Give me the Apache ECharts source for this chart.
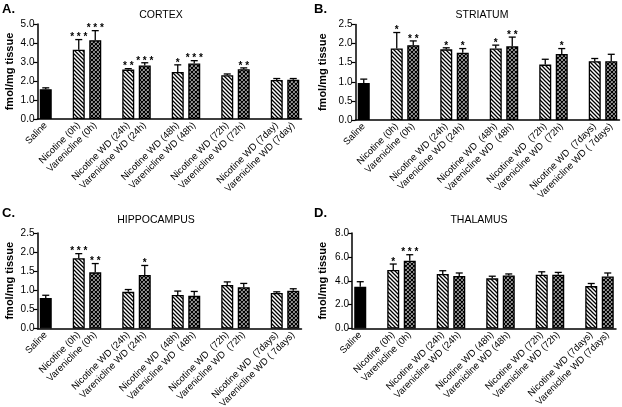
<!DOCTYPE html>
<html><head><meta charset="utf-8">
<script src="https://cdn.jsdelivr.net/npm/echarts@6/dist/echarts.min.js"></script>
<style>html,body{margin:0;padding:0;background:#fff}#c{width:622px;height:407px}</style>
</head><body><div id="c"></div>
<script>
// ---------- data ----------
const labelsCortex = ['Saline','Nicotine (0h)','Varenicline (0h)','Nicotine WD (24h)','Varenicline WD (24h)','Nicotine WD (48h)','Varenicline WD (48h)','Nicotine WD (72h)','Varenicline WD (72h)','Nicotine WD (7day)','Varenicline WD (7day)'];
const labelsStriatum = ['Saline','Nicotine (0h)','Varenicline (0h)','Nicotine WD (24h)','Varenicline WD (24h)','Nicotine WD  (48h)','Varenicline WD  (48h)','Nicotine WD  (72h)','Varenicline WD  (72h)','Nicotine WD  (7days)','Varenicline WD ( 7days)'];
const labelsHippocampus = ['Saline','Nicotine (0h)','Varenicline (0h)','Nicotine WD (24h)','Varenicline WD (24h)','Nicotine WD  (48h)','Varenicline WD  (48h)','Nicotine WD  (72h)','Varenicline WD  (72h)','Nicotine WD  (7days)','Varenicline WD ( 7days)'];
const labelsThalamus = ['Saline','Nicotine (0h)','Varenicline (0h)','Nicotine WD (24h)','Varenicline WD (24h)','Nicotine WD (48h)','Varenicline WD (48h)','Nicotine WD (72h)','Varenicline WD (72h)','Nicotine WD (7days)','Varenicline WD (7days)'];

const cortexMean  = [1.57, 3.65, 4.15, 2.60, 2.82, 2.48, 2.92, 2.30, 2.62, 2.05, 2.07];
const cortexErr   = [0.07, 0.53, 0.50, 0.05, 0.14, 0.37, 0.15, 0.07, 0.07, 0.08, 0.06];
const cortexStars = ['', '***', '***', '**', '***', '*', '***', '', '**', '', ''];

const striatumMean  = [0.97, 1.87, 1.96, 1.85, 1.76, 1.87, 1.93, 1.45, 1.73, 1.54, 1.54];
const striatumErr   = [0.10, 0.42, 0.11, 0.04, 0.11, 0.09, 0.24, 0.14, 0.14, 0.07, 0.18];
const striatumStars = ['', '*', '**', '*', '*', '*', '**', '', '*', '', ''];

const hippocampusMean  = [0.80, 1.84, 1.47, 0.96, 1.40, 0.88, 0.86, 1.14, 1.08, 0.93, 0.99];
const hippocampusErr   = [0.07, 0.12, 0.23, 0.06, 0.25, 0.10, 0.11, 0.08, 0.10, 0.03, 0.05];
const hippocampusStars = ['', '***', '**', '', '*', '', '', '', '', '', ''];

const thalamusMean  = [3.50, 4.90, 5.68, 4.56, 4.40, 4.20, 4.45, 4.50, 4.50, 3.55, 4.35];
const thalamusErr   = [0.42, 0.50, 0.50, 0.28, 0.25, 0.18, 0.12, 0.25, 0.20, 0.22, 0.30];
const thalamusStars = ['', '*', '***', '', '', '', '', '', '', '', ''];

const yTicksCortex = {min: 0, max: 5, step: 1};
const yTicksStriatum = {min: 0, max: 2.5, step: 0.5};
const yTicksHippocampus = {min: 0, max: 2.5, step: 0.5};
const yTicksThalamus = {min: 0, max: 8, step: 2};

// ---------- patterns ----------
function hatchCanvas() {
  const c = document.createElement('canvas'); c.width = 4; c.height = 4;
  const g = c.getContext('2d');
  g.fillStyle = '#fff'; g.fillRect(0, 0, 4, 4);
  g.strokeStyle = '#000'; g.lineWidth = 1.3;
  g.beginPath();
  g.moveTo(-1, -1); g.lineTo(5, 5);
  g.moveTo(3, -1); g.lineTo(5, 1);
  g.moveTo(-1, 3); g.lineTo(1, 5);
  g.stroke();
  return c;
}
function crossCanvas() {
  const c = document.createElement('canvas'); c.width = 4; c.height = 4;
  const g = c.getContext('2d');
  g.fillStyle = '#fff'; g.fillRect(0, 0, 4, 4);
  g.strokeStyle = '#000'; g.lineWidth = 1.4;
  g.beginPath();
  g.moveTo(-1, -1); g.lineTo(5, 5);
  g.moveTo(3, -1); g.lineTo(5, 1);
  g.moveTo(-1, 3); g.lineTo(1, 5);
  g.moveTo(5, -1); g.lineTo(-1, 5);
  g.moveTo(1, -1); g.lineTo(-1, 1);
  g.moveTo(5, 3); g.lineTo(3, 5);
  g.stroke();
  return c;
}
const fillSaline = '#000';
const fillNicotine = {image: hatchCanvas(), repeat: 'repeat'};
const fillVarenicline = {image: crossCanvas(), repeat: 'repeat'};

// ---------- layout ----------
const FONT = 'Liberation Sans, Arial, sans-serif';
const panels = [
  {letter: 'A.', title: 'CORTEX', labels: labelsCortex, mean: cortexMean, err: cortexErr, stars: cortexStars, ticks: yTicksCortex,
   grid: {left: 37.5, top: 24, width: 264, height: 95}, titleX: 161, titleY: 15.5, letterX: 2, letterY: 3, nameGap: 22},
  {letter: 'B.', title: 'STRIATUM', labels: labelsStriatum, mean: striatumMean, err: striatumErr, stars: striatumStars, ticks: yTicksStriatum,
   grid: {left: 355.5, top: 24.5, width: 264, height: 95.5}, titleX: 482, titleY: 15.5, letterX: 314, letterY: 3, nameGap: 27},
  {letter: 'C.', title: 'HIPPOCAMPUS', labels: labelsHippocampus, mean: hippocampusMean, err: hippocampusErr, stars: hippocampusStars, ticks: yTicksHippocampus,
   grid: {left: 37.5, top: 233, width: 264, height: 95.5}, titleX: 156, titleY: 220, letterX: 2, letterY: 207, nameGap: 22},
  {letter: 'D.', title: 'THALAMUS', labels: labelsThalamus, mean: thalamusMean, err: thalamusErr, stars: thalamusStars, ticks: yTicksThalamus,
   grid: {left: 352, top: 233, width: 264, height: 95.5}, titleX: 479, titleY: 220, letterX: 314, letterY: 207, nameGap: 24}
];

// group index -> category slot (Saline, blank, pair, blank, pair, ...)
function slotOf(g) { return g === 0 ? 0 : 2 + 3 * Math.floor((g - 1) / 2) + ((g - 1) % 2); }
const NSLOTS = 16;
function categories(labels) {
  const cats = new Array(NSLOTS).fill('');
  labels.forEach((l, g) => { cats[slotOf(g)] = l; });
  return cats;
}
function fillOf(g) { return g === 0 ? fillSaline : ((g - 1) % 2 === 0 ? fillNicotine : fillVarenicline); }

const grids = [], xAxes = [], yAxes = [], series = [], graphics = [];
panels.forEach((p, i) => {
  grids.push(Object.assign({outerBoundsMode: 'none', containLabel: false}, p.grid));
  xAxes.push({
    type: 'category', gridIndex: i, data: categories(p.labels), boundaryGap: true,
    axisLine: {show: true, lineStyle: {color: '#000', width: 1.5}},
    axisTick: {show: false},
    axisLabel: {interval: 0, rotate: 45, fontSize: 9.5, color: '#000', margin: 5, fontFamily: FONT},
    splitLine: {show: false}
  });
  yAxes.push({
    type: 'value', gridIndex: i, min: p.ticks.min, max: p.ticks.max, interval: p.ticks.step,
    axisLine: {show: true, lineStyle: {color: '#000', width: 1.5}},
    axisTick: {show: true, length: 4, lineStyle: {color: '#000', width: 1.2}},
    axisLabel: {formatter: v => v.toFixed(1), fontSize: 10, color: '#000', margin: 3, fontFamily: FONT},
    splitLine: {show: false},
    name: 'fmol/mg tissue', nameLocation: 'middle', nameGap: p.nameGap,
    nameTextStyle: {fontWeight: 'bold', fontSize: 11, color: '#000', fontFamily: FONT}
  });
  const barData = new Array(NSLOTS).fill('-');
  p.mean.forEach((m, g) => {
    barData[slotOf(g)] = {value: m, itemStyle: {color: fillOf(g)}};
  });
  series.push({
    type: 'bar', xAxisIndex: i, yAxisIndex: i, data: barData, barWidth: 12,
    itemStyle: {borderColor: '#000', borderWidth: 1.3}, z: 2
  });
  const errData = p.mean.map((m, g) => [slotOf(g), m, p.err[g]]);
  const stars = p.stars;
  series.push({
    type: 'custom', xAxisIndex: i, yAxisIndex: i, data: errData, z: 5, clip: false,
    encode: {x: 0, y: 1},
    renderItem: function (params, api) {
      const x = api.value(0), m = api.value(1), e = api.value(2);
      const base = api.coord([x, m]);
      const top = api.coord([x, m + e]);
      const cx = base[0];
      const children = [
        {type: 'line', shape: {x1: cx, y1: base[1], x2: cx, y2: top[1]}, style: {stroke: '#000', lineWidth: 1.3}},
        {type: 'line', shape: {x1: cx - 3.5, y1: top[1], x2: cx + 3.5, y2: top[1]}, style: {stroke: '#000', lineWidth: 1.3}}
      ];
      const s = stars[params.dataIndex];
      if (s) {
        children.push({type: 'text', x: cx, y: top[1] + 3,
          style: {text: s.split('').join(' '), textAlign: 'center', textVerticalAlign: 'bottom', fontSize: 10, fontWeight: 'bold', fill: '#000', fontFamily: FONT}});
      }
      return {type: 'group', children: children};
    }
  });
  graphics.push({type: 'text', x: p.letterX, y: p.letterY,
    style: {text: p.letter, fontSize: 13, fontWeight: 'bold', fill: '#000', fontFamily: FONT}});
  graphics.push({type: 'text', x: p.titleX, y: p.titleY,
    style: {text: p.title, fontSize: 10.5, fill: '#000', textAlign: 'center', textVerticalAlign: 'middle', fontFamily: FONT}});
});

const chart = echarts.init(document.getElementById('c'), null, {renderer: 'canvas'});
chart.setOption({
  animation: false,
  backgroundColor: '#fff',
  grid: grids, xAxis: xAxes, yAxis: yAxes, series: series, graphic: graphics
});
</script>
</body></html>
